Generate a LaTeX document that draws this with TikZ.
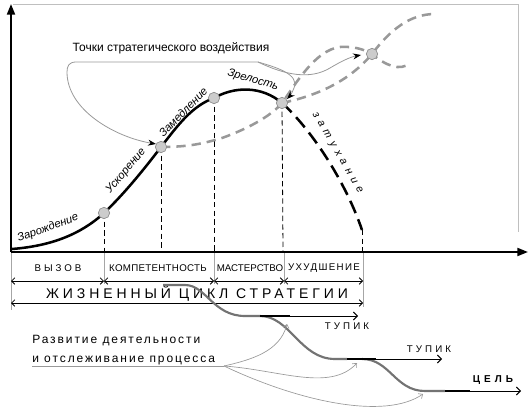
\documentclass[tikz,border=0pt]{standalone}
\usepackage{fontspec}
\setmainfont{Liberation Sans}
\newfontfamily\spacedfont[LetterSpace=16]{Liberation Sans}
\usetikzlibrary{arrows.meta}
\begin{document}
\begin{tikzpicture}[x=0.75pt,y=-0.75pt,
  axis/.style={line width=1.5pt,-{Triangle[length=8pt,width=6pt]}},
  life/.style={line width=1.9pt},
  ghost/.style={draw=black!40,line width=1.9pt,dash pattern=on 7pt off 4.5pt},
  fade/.style={line width=1.9pt,dash pattern=on 10pt off 5pt},
  guide/.style={line width=0.6pt,dash pattern=on 4pt off 2.5pt},
  sep/.style={draw=black!35,line width=0.6pt},
  span/.style={line width=0.6pt,{Straight Barb[length=2.5pt,width=5pt]}-{Straight Barb[length=2.5pt,width=5pt]}},
  dot/.style={circle,fill=black!20,draw=black!45,line width=0.5pt,minimum size=8.5pt,inner sep=0pt},
  lbl/.style={font=\itshape\fontsize{8.4}{9}\selectfont,inner sep=1pt},
  phase/.style={font=\fontsize{7.3}{8}\selectfont},
  pointer/.style={draw=black!40,line width=0.6pt},
  ptip/.style={pointer,-{Stealth[black,length=6pt,width=4.5pt]}},
  road/.style={draw=black!55,line width=1.6pt},
  lane/.style={line width=0.7pt,-{Straight Barb[length=3pt,width=6pt]}},
  laneb/.style={line width=1.6pt},
  fanarr/.style={draw=black!40,line width=0.5pt,-{Straight Barb[length=2.5pt,width=4.5pt]}}
]
\useasboundingbox (0,0) rectangle (530,417);
% frame
\draw[black!25,line width=0.6pt] (13,4) -- (518,4) -- (518,232);
% axes
\coordinate (o) at (11,252);
\coordinate (ytop) at (11,4);
\coordinate (xend) at (528,252);
\draw[axis] (o) -- (ytop);
\draw[axis] (o) -- (xend);

% points
\coordinate (c1) at (104,213);
\coordinate (c2) at (161,147);
\coordinate (c3) at (214,98);
\coordinate (c4) at (282,103);
\coordinate (c5) at (372,54);
\coordinate (c6) at (362,230);

% guide dashed lines
\draw[guide] (c1) -- (104,251);
\draw[guide] (c2) -- (161,251);
\draw[guide] (c3) -- (214,251);
\draw[guide] (c4) -- (283,251);
\draw[guide] (c6) -- (362,251);

% ghost curves
\draw[ghost] (c2) .. controls (190,147) and (205,143) .. (222,138) .. controls (250,128) and (272,115) .. (c4)
  .. controls (295,85) and (315,50) .. (340,47) .. controls (355,46) and (365,50) .. (c5)
  .. controls (385,65) and (400,72) .. (410,63);
\draw[ghost] (c4) .. controls (320,95) and (350,80) .. (c5) .. controls (390,30) and (410,14) .. (435,14);

% main life curve
\draw[life] (12,249) .. controls (50,246) and (80,235) .. (c1)
  .. controls (125,193) and (145,168) .. (c2)
  .. controls (178,125) and (192,106) .. (c3)
  .. controls (235,86) and (262,86) .. (c4);
\draw[fade] (c4) .. controls (310,128) and (345,180) .. (c6);

% bracket pointers
\coordinate (br) at (258,62);
\draw[ptip] (br) -- (76,62) .. controls (69,62) and (67,66) .. (67,72) .. controls (67,110) and (115,137) .. (156,144);
\draw[ptip] (br) .. controls (285,75) and (310,80) .. (330,68) .. controls (340,62) and (350,57) .. (361,55);
\draw[ptip] (br) .. controls (275,67) and (300,74) .. (294,88) .. controls (292,93) and (290,96) .. (287,99);
\node (title) at (171,48) {\fontsize{9}{10}\selectfont Точки стратегического воздействия};

% dots
\foreach \p in {c1,c2,c3,c4,c5} \node[dot] at (\p) {};

% curve labels
\node[lbl,rotate=20] (l1) at (48,228) {Зарождение};
\node[lbl,rotate=50] (l2) at (126,171) {Ускорение};
\node[lbl,rotate=46] (l3) at (183,112) {Замедление};
\node[lbl,rotate=-16] (l4) at (253,80) {Зрелость};
\node[lbl,rotate=-60,font=\itshape\fontsize{8}{9}\selectfont\addfontfeature{LetterSpace=45}] (l5) at (337,153) {затухание};

% separators below axis
\draw[sep] (11,253) -- (11,310);
\draw[sep] (104,253) -- (104,284);
\draw[sep] (214,253) -- (214,284);
\draw[sep] (284,253) -- (284,284);
\draw[sep] (363,253) -- (363,307);

% phase labels
\node[phase,font=\fontsize{7.3}{8}\selectfont\addfontfeature{LetterSpace=30}] (ph1) at (58,268) {ВЫЗОВ};
\node[phase,font=\fontsize{7.3}{8}\selectfont\addfontfeature{LetterSpace=3}] (ph2) at (158,268) {КОМПЕТЕНТНОСТЬ};
\node[phase] (ph3) at (250,268) {МАСТЕРСТВО};
\node[phase,font=\fontsize{7.3}{8}\selectfont\addfontfeature{LetterSpace=14}] (ph4) at (324,268) {УХУДШЕНИЕ};

\coordinate (a0) at (11,281);
\coordinate (a1) at (104,281);
\coordinate (a2) at (214,281);
\coordinate (a3) at (284,281);
\coordinate (a4) at (363,281);
\draw[span] (a0) -- (a1);
\draw[span] (a1) -- (a2);
\draw[span] (a2) -- (a3);
\draw[span] (a3) -- (a4);

\node (cycle) at (197,294) {\fontsize{10.5}{12}\selectfont\addfontfeature{LetterSpace=28}ЖИЗНЕННЫЙ ЦИКЛ СТРАТЕГИИ};
\draw[span] (11,303) -- (363,303);

% road
\coordinate (r0) at (163,285);
\coordinate (r1) at (260,316);
\coordinate (r2) at (347,359);
\coordinate (r3) at (445,391);
\draw[road] (r0) -- (185,285) .. controls (206,285) and (213,316) .. (245,316) -- (r1);
\draw[road] (r1) .. controls (290,316) and (300,359) .. (335,359) -- (r2);
\draw[road] (362,359) .. controls (390,359) and (395,391) .. (425,391) -- (r3);
\draw[laneb] (r1) -- (290,316);
\draw[lane] (r1) -- (358,316);
\draw[laneb] (r2) -- (376,359);
\draw[lane] (r2) -- (442,359);
\draw[laneb] (r3) -- (470,391);
\draw[lane] (470,391) -- (521,391);

\node (t1) at (347,326) {\fontsize{7.3}{8}\selectfont\addfontfeature{LetterSpace=32}ТУПИК};
\node (t2) at (429,349) {\fontsize{7.3}{8}\selectfont\addfontfeature{LetterSpace=32}ТУПИК};
\node (goal) at (493,380) {\fontsize{7.5}{8}\selectfont\bfseries\addfontfeature{LetterSpace=40}ЦЕЛЬ};

% development text
\node[anchor=west,align=left,inner sep=0pt,font=\spacedfont\fontsize{9}{14}\selectfont] (dev) at (32,350) {Развитие деятельности\\ и отслеживание процесса};
\coordinate (fan) at (224,366);
\draw[pointer] (32,366) -- (fan);
\draw[fanarr] (fan) .. controls (250,360) and (280,352) .. (287,324);
\draw[fanarr] (fan) .. controls (280,370) and (330,392) .. (357,363);
\draw[fanarr] (fan) .. controls (300,402) and (385,420) .. (423,394);
\end{tikzpicture}
\end{document}
